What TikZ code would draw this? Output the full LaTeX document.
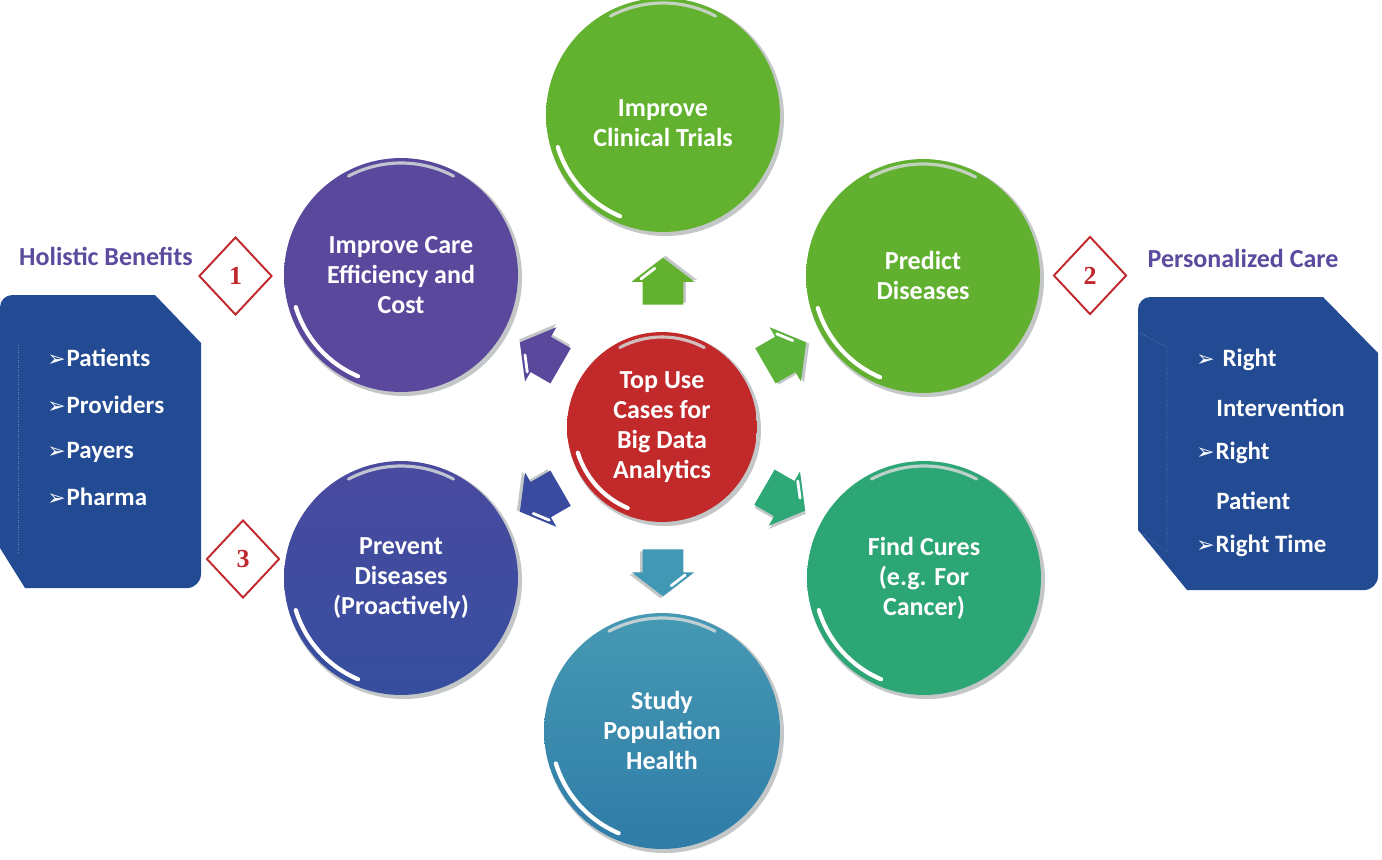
\documentclass[tikz,border=0pt]{standalone}
\usepackage{fontspec}
\setmainfont{Carlito}
\newfontfamily\symfont{DejaVu Sans}
\newfontfamily\numfont{Liberation Serif}
\usetikzlibrary{shapes.arrows,shapes.geometric,calc}
\definecolor{rimgrey}{HTML}{C3C7C7}
\definecolor{hlgrey}{HTML}{D5D9D9}
\definecolor{boxblue}{HTML}{224B93}
\definecolor{bevel}{HTML}{5C86C0}
\definecolor{titlepurple}{HTML}{5B4A9E}
\definecolor{diamred}{HTML}{C0282D}
\definecolor{cClin}{HTML}{62B22F}
\definecolor{cCare}{HTML}{5A489D}
\definecolor{cPred}{HTML}{62B030}
\definecolor{cPrevT}{HTML}{4A4AA0}
\definecolor{cPrevB}{HTML}{364E9E}
\definecolor{cCure}{HTML}{2DA676}
\definecolor{cStudyT}{HTML}{4699B3}
\definecolor{cStudyB}{HTML}{2F7CA8}
\definecolor{cRed}{HTML}{C1292A}
\definecolor{cArrUR}{HTML}{5DB33A}
\definecolor{cArrDR}{HTML}{2EA877}
\definecolor{cArrD}{HTML}{4198B5}
\definecolor{cArrDL}{HTML}{3A4B9F}
\tikzset{
  ballnode/.style={circle, inner sep=0pt, draw=none},
  balltext/.style={text=white, font=\bfseries\fontsize{14.8}{17.07}\selectfont, align=center, inner sep=0pt},
  titletext/.style={text=titlepurple, font=\bfseries\fontsize{14.8}{17.07}\selectfont, inner sep=0pt},
  listtext/.style={text=white, font=\bfseries\fontsize{14.2}{17}\selectfont, inner sep=0pt, anchor=west},
  numdiamond/.style={diamond, draw=diamred, line width=1.1pt, fill=white, minimum width=1.46cm, minimum height=1.56cm, inner sep=0pt, aspect=0.94, text=diamred, font=\numfont\bfseries\fontsize{14.8}{17}\selectfont},
  arrowshape/.style={single arrow, minimum height=0.94cm, single arrow head extend=0.22cm, single arrow tip angle=105, inner xsep=0pt, inner ysep=0.4cm, draw=none},
}
\newcommand\blt{{\symfont\fontsize{12.5}{12}\selectfont ➢}\hspace{0.5pt}}
\newcommand\ball[5]{%
  \fill[rimgrey] #2 ++(2.5,2.5) circle[radius=#3+1.5];
  \node[ballnode, minimum size={(#3)*0.04cm}, top color=#4, bottom color=#5] (#1) at #2 {};
  \draw[hlgrey, line width=1.8pt, line cap=round, opacity=.85] (#1.center) ++(-118:#3-5) arc[start angle=-118, end angle=-62, radius=#3-5];
  \draw[white, line width=2.4pt, line cap=round] (#1.center) ++(163:#3-7) arc[start angle=163, end angle=113, radius=#3-7];
}
\newcommand\blockarrow[4]{%
  \node[arrowshape, fill=rimgrey, rotate=#3, xshift=0.04cm, yshift=-0.05cm] (#1s) at #2 {};
  \node[arrowshape, fill=#4, rotate=#3] (#1) at #2 {};
  \draw[white, line width=1.6pt, line cap=round] ($($(#1.before tip)!.2!(#1.tip)$)!.15!(#1.center)$) -- ($($(#1.before tip)!.7!(#1.tip)$)!.15!(#1.center)$);
}
\begin{document}
\begin{tikzpicture}[x=0.02cm,y=-0.02cm]
\useasboundingbox (0,0) rectangle (1382,859);
\fill[white] (0,0) rectangle (1382,859);

% side boxes
\fill[boxblue] (0,548) [rounded corners=7pt] -- (0,295) [sharp corners] -- (155,295) -- (201,343) [rounded corners=8pt] -- (201,588) [sharp corners] -- (25,588) -- cycle;
\draw[bevel, densely dotted, line width=0.4pt] (18,345) -- (18,552);
\fill[boxblue] (1138,530) [rounded corners=7pt] -- (1138,297) [sharp corners] -- (1323,297) -- (1378,353) [rounded corners=8pt] -- (1378,590) [sharp corners] -- (1187,590) -- cycle;
\draw[bevel, densely dotted, line width=0.4pt] (1140,333) -- (1167,347) -- (1167,552) -- (1141,533);

% titles
\node[titletext] (holistic) at (106,256) {Holistic Benefits};
\node[titletext] (personal) at (1243,258) {Personalized Care};

% lists
\node[listtext] (l1) at (47,358) {\blt Patients};
\node[listtext] (l2) at (47,405) {\blt Providers};
\node[listtext] (l3) at (47,452) {\blt Payers};
\node[listtext] (l4) at (47,497) {\blt Pharma};
\node[listtext] (r1) at (1196,360) {\blt\hspace{4pt}Right};
\node[listtext] (r2) at (1216,408) {Intervention};
\node[listtext] (r3) at (1196,453) {\blt Right};
\node[listtext] (r4) at (1216,501) {Patient};
\node[listtext] (r5) at (1196,546) {\blt Right Time};

% diamonds
\node[numdiamond] (d1) at (235.5,276) {1};
\node[numdiamond] (d2) at (1090,275.5) {2};
\node[numdiamond] (d3) at (243,559) {3};

% balls
\ball{clin}{(663,115)}{117}{cClin}{cClin}
\ball{care}{(401,275)}{117}{cCare}{cCare}
\ball{pred}{(923,276)}{117}{cPred}{cPred}
\ball{prev}{(401,578)}{117}{cPrevT}{cPrevB}
\ball{cure}{(924,578)}{117}{cCure}{cCure}
\ball{study}{(662,731)}{118}{cStudyT}{cStudyB}
\ball{hub}{(662,427)}{95}{cRed}{cRed}

\node[balltext] (clinT) at (663,123) {Improve\\Clinical Trials};
\node[balltext] (careT) at (401,275) {Improve Care\\Efficiency and\\Cost};
\node[balltext] (predT) at (923,275) {Predict\\Diseases};
\node[balltext] (prevT) at (401,578) {Prevent\\Diseases\\(Proactively)};
\node[balltext] (cureT) at (924,578) {Find Cures\\(e.g. For\\Cancer)};
\node[balltext] (studyT) at (662,730) {Study\\Population\\Health};
\node[balltext] (hubT) at (662,427) {Top Use\\Cases for\\Big Data\\Analytics};

% arrows
\blockarrow{aU}{(663,289)}{90}{cClin}
\blockarrow{aUR}{(779,358)}{30}{cArrUR}
\blockarrow{aDR}{(778,495)}{-30}{cArrDR}
\blockarrow{aD}{(663,565)}{-90}{cArrD}
\blockarrow{aDL}{(547,496)}{210}{cArrDL}
\blockarrow{aUL}{(547,358)}{150}{cCare}
\end{tikzpicture}
\end{document}
